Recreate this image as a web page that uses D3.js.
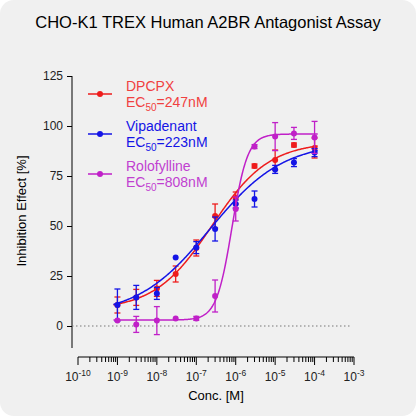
<!DOCTYPE html><html><head><script src="https://cdn.jsdelivr.net/npm/d3@7"></script>
<style>body{margin:0;background:#fff}svg{font-family:Arial,"Liberation Sans",sans-serif}</style></head><body><svg id="c" width="416" height="416"></svg><script>
const conc=[1e-9,3e-9,1e-8,3e-8,1e-7,3e-7,1e-6,3e-6,1e-5,3e-5,1e-4];
const dpcpx=[10.5,14.3,18.8,26,39,55,64,80,83,90.5,89];
const dpcpxErr=[4,4,4,4,4,6,3,1,5,1,5];
const vipa=[10.5,14.3,16.3,34.3,39.2,48.5,61,63.5,78.3,81.7,86.7];
const vipaErr=[8,6,3,0,3,6,2,4,2,2,2];
const rolo=[2.7,0.8,2.7,3.8,3.8,15,58.5,89.7,94.7,96.3,94.3];
const roloErr=[0,4,7,0,1,8,6,1,7,3,8];
const yTicks=[0,25,50,75,100,125];
const xExps=[-10,-9,-8,-7,-6,-5,-4,-3];
const series=[
 {name:"DPCPX",ec:"247nM",color:"#ee1c1c",txt:"#f04040",v:dpcpx,e:dpcpxErr,fit:[8,92,247e-9,0.6]},
 {name:"Vipadenant",ec:"223nM",color:"#1414e6",txt:"#1414e6",v:vipa,e:vipaErr,fit:[5,92,223e-9,0.47]},
 {name:"Rolofylline",ec:"808nM",color:"#c020c8",txt:"#c040d0",v:rolo,e:roloErr,fit:[3,96,808e-9,2.2]}];
const svg=d3.select("#c");
svg.append("rect").attr("width",416).attr("height",416).attr("rx",14).attr("fill","#f0f0f0");
const x=d3.scaleLog().domain([1e-10,1e-3]).range([78,354]);
const y=d3.scaleLinear().domain([0,125]).range([326,76]);
svg.append("text").attr("x",208).attr("y",28).attr("text-anchor","middle").attr("font-size",16.5).text("CHO-K1 TREX Human A2BR Antagonist Assay");
const ya=svg.append("g").attr("transform","translate(72,0)").call(d3.axisLeft(y).tickValues(yTicks).tickSize(5).tickPadding(4));
ya.select(".domain").attr("d","M0,76V348");
ya.selectAll("text").attr("font-size",12).attr("fill","#222");
svg.append("text").attr("transform","translate(26,211) rotate(-90)").attr("text-anchor","middle").attr("font-size",13).text("Inhibition Effect [%]");
const xa=svg.append("g").attr("transform","translate(0,357)");
xa.append("line").attr("x1",78).attr("x2",354).attr("stroke","#000");
xExps.forEach((p,i)=>{
 xa.append("line").attr("x1",x(10**p)).attr("x2",x(10**p)).attr("y2",8).attr("stroke","#000");
 if(i<xExps.length-1) for(let k=2;k<10;k++){xa.append("line").attr("x1",x(k*10**p)).attr("x2",x(k*10**p)).attr("y2",5).attr("stroke","#000");}
 const t=xa.append("text").attr("x",x(10**p)).attr("y",24).attr("text-anchor","middle").attr("font-size",12).attr("fill","#222");
 t.append("tspan").text("10");t.append("tspan").attr("dy",-5).attr("font-size",8.5).text(p);
});
svg.append("text").attr("x",216).attr("y",400).attr("text-anchor","middle").attr("font-size",13).text("Conc. [M]");
svg.append("line").attr("x1",72).attr("x2",352).attr("y1",y(0)).attr("y2",y(0)).attr("stroke","#777").attr("stroke-dasharray","1.5,2.5");
const grid=d3.range(-9.1,-3.9,0.02);
series.forEach(s=>{
 const [b,t,ec,h]=s.fit;
 svg.append("path").datum(grid).attr("fill","none").attr("stroke",s.color).attr("stroke-width",1.5)
  .attr("d",d3.line().x(l=>x(10**l)).y(l=>y(b+(t-b)/(1+(ec/10**l)**h))));
 const g=svg.append("g").attr("stroke",s.color).attr("fill",s.color);
 s.v.forEach((v,i)=>{
  const cx=x(conc[i]);
  if(s.e[i]>0){
   g.append("line").attr("x1",cx).attr("x2",cx).attr("y1",y(v-s.e[i])).attr("y2",y(v+s.e[i])).attr("stroke-width",1.3);
   [v-s.e[i],v+s.e[i]].forEach(e=>g.append("line").attr("x1",cx-3).attr("x2",cx+3).attr("y1",y(e)).attr("y2",y(e)).attr("stroke-width",1.3));
  }
  g.append("circle").attr("cx",cx).attr("cy",y(v)).attr("r",3).attr("stroke","none");
 });
});
series.forEach((s,i)=>{
 const ly=94+i*40;
 svg.append("line").attr("x1",88).attr("x2",112).attr("y1",ly).attr("y2",ly).attr("stroke",s.color).attr("stroke-width",1.5);
 svg.append("circle").attr("cx",100).attr("cy",ly).attr("r",3).attr("fill",s.color);
 svg.append("text").attr("x",126).attr("y",ly-3).attr("font-size",14).attr("fill",s.txt).text(s.name);
 const t=svg.append("text").attr("x",126).attr("y",ly+13).attr("font-size",14).attr("fill",s.txt);
 t.append("tspan").text("EC");t.append("tspan").attr("dy",4).attr("font-size",10).text("50");
 t.append("tspan").attr("dy",-4).text("="+s.ec);
});
</script></body></html>
